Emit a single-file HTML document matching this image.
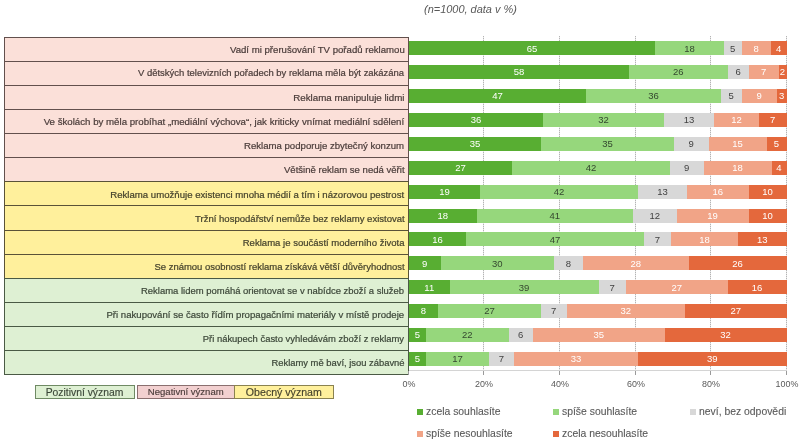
<!DOCTYPE html>
<html><head><meta charset="utf-8"><style>
*{margin:0;padding:0;box-sizing:border-box}
html,body{width:800px;height:445px;background:#fff;overflow:hidden;position:relative;}
body{will-change:transform;font-family:"Liberation Sans",sans-serif}
.a{position:absolute}
.lab{position:absolute;will-change:transform;-webkit-text-stroke:0.2px currentColor;white-space:nowrap;font-size:9px;line-height:12px;transform-origin:100% 50%}
.seg{position:absolute;height:14px}
.v{position:absolute;font-size:9.5px;line-height:12px;text-align:center;white-space:nowrap}
.gl{position:absolute;width:1px;background:repeating-linear-gradient(to bottom,#b4b4b4 0 1px,#e6e6e6 1px 2px)}
.tk{position:absolute;transform:scaleX(0.94);font-size:9.5px;line-height:12px;color:#595959;white-space:nowrap;text-align:center;width:40px}
.lg{position:absolute;-webkit-text-stroke:0.1px currentColor;font-size:10.4px;line-height:12px;color:#595959;white-space:nowrap}
.sq{position:absolute;width:6px;height:6px}
</style></head><body>
<div class="a" style="left:424px;top:4.1px;transform:scaleX(1.096);transform-origin:0 0;font-size:10px;line-height:12px;font-style:italic;color:#595959;white-space:nowrap">(n=1000, data v %)</div>
<div class="gl" style="left:483px;top:36px;height:335px"></div>
<div class="gl" style="left:559px;top:36px;height:335px"></div>
<div class="gl" style="left:635px;top:36px;height:335px"></div>
<div class="gl" style="left:710px;top:36px;height:335px"></div>
<div class="gl" style="left:786px;top:36px;height:335px"></div>
<div class="a" style="left:4px;top:37.00px;width:405px;height:25.07px;background:#fbe0d9;border:1px solid #62504d"></div>
<div class="a" style="left:4px;top:61.07px;width:405px;height:25.07px;background:#fbe0d9;border:1px solid #62504d"></div>
<div class="a" style="left:4px;top:85.14px;width:405px;height:25.07px;background:#fbe0d9;border:1px solid #62504d"></div>
<div class="a" style="left:4px;top:109.21px;width:405px;height:25.07px;background:#fbe0d9;border:1px solid #62504d"></div>
<div class="a" style="left:4px;top:133.28px;width:405px;height:25.07px;background:#fbe0d9;border:1px solid #62504d"></div>
<div class="a" style="left:4px;top:157.35px;width:405px;height:25.07px;background:#fbe0d9;border:1px solid #62504d"></div>
<div class="a" style="left:4px;top:181.42px;width:405px;height:25.07px;background:#fff09c;border:1px solid #5a5238"></div>
<div class="a" style="left:4px;top:205.49px;width:405px;height:25.07px;background:#fff09c;border:1px solid #5a5238"></div>
<div class="a" style="left:4px;top:229.56px;width:405px;height:25.07px;background:#fff09c;border:1px solid #5a5238"></div>
<div class="a" style="left:4px;top:253.63px;width:405px;height:25.07px;background:#fff09c;border:1px solid #5a5238"></div>
<div class="a" style="left:4px;top:277.70px;width:405px;height:25.07px;background:#def0d3;border:1px solid #4a5a45"></div>
<div class="a" style="left:4px;top:301.77px;width:405px;height:25.07px;background:#def0d3;border:1px solid #4a5a45"></div>
<div class="a" style="left:4px;top:325.84px;width:405px;height:25.07px;background:#def0d3;border:1px solid #4a5a45"></div>
<div class="a" style="left:4px;top:349.91px;width:405px;height:25.07px;background:#def0d3;border:1px solid #4a5a45"></div>
<div class="lab" style="transform:scaleX(1.0673);right:395.5px;top:44.10px;color:#4a3c3a">Vadí mi přerušování TV pořadů reklamou</div>
<div class="seg" style="left:409.00px;top:41.20px;width:246.00px;background:#58ae32"></div>
<div class="v" style="left:409.00px;top:42.50px;width:246.00px;color:#ffffff">65</div>
<div class="seg" style="left:655.00px;top:41.20px;width:69.00px;background:#96d77c"></div>
<div class="v" style="left:655.00px;top:42.50px;width:69.00px;color:#34472f">18</div>
<div class="seg" style="left:724.00px;top:41.20px;width:17.50px;background:#d8d8d8"></div>
<div class="v" style="left:724.00px;top:42.50px;width:17.50px;color:#3f3f3f">5</div>
<div class="seg" style="left:741.50px;top:41.20px;width:29.50px;background:#f1a487"></div>
<div class="v" style="left:741.50px;top:42.50px;width:29.50px;color:#ffffff">8</div>
<div class="seg" style="left:771.00px;top:41.20px;width:15.50px;background:#e4683c"></div>
<div class="v" style="left:771.00px;top:42.50px;width:15.50px;color:#ffffff">4</div>
<div class="lab" style="transform:scaleX(1.0513);right:395.5px;top:67.30px;color:#4a3c3a">V dětských televizních pořadech by reklama měla být zakázána</div>
<div class="seg" style="left:409.00px;top:65.10px;width:220.00px;background:#58ae32"></div>
<div class="v" style="left:409.00px;top:66.40px;width:220.00px;color:#ffffff">58</div>
<div class="seg" style="left:629.00px;top:65.10px;width:98.50px;background:#96d77c"></div>
<div class="v" style="left:629.00px;top:66.40px;width:98.50px;color:#34472f">26</div>
<div class="seg" style="left:727.50px;top:65.10px;width:21.50px;background:#d8d8d8"></div>
<div class="v" style="left:727.50px;top:66.40px;width:21.50px;color:#3f3f3f">6</div>
<div class="seg" style="left:749.00px;top:65.10px;width:29.50px;background:#f1a487"></div>
<div class="v" style="left:749.00px;top:66.40px;width:29.50px;color:#ffffff">7</div>
<div class="seg" style="left:778.50px;top:65.10px;width:8.00px;background:#e4683c"></div>
<div class="v" style="left:778.50px;top:66.40px;width:8.00px;color:#ffffff">2</div>
<div class="lab" style="transform:scaleX(1.0858);right:395.5px;top:91.50px;color:#4a3c3a">Reklama manipuluje lidmi</div>
<div class="seg" style="left:409.00px;top:89.00px;width:177.00px;background:#58ae32"></div>
<div class="v" style="left:409.00px;top:90.30px;width:177.00px;color:#ffffff">47</div>
<div class="seg" style="left:586.00px;top:89.00px;width:135.00px;background:#96d77c"></div>
<div class="v" style="left:586.00px;top:90.30px;width:135.00px;color:#34472f">36</div>
<div class="seg" style="left:721.00px;top:89.00px;width:20.50px;background:#d8d8d8"></div>
<div class="v" style="left:721.00px;top:90.30px;width:20.50px;color:#3f3f3f">5</div>
<div class="seg" style="left:741.50px;top:89.00px;width:35.50px;background:#f1a487"></div>
<div class="v" style="left:741.50px;top:90.30px;width:35.50px;color:#ffffff">9</div>
<div class="seg" style="left:777.00px;top:89.00px;width:9.50px;background:#e4683c"></div>
<div class="v" style="left:777.00px;top:90.30px;width:9.50px;color:#ffffff">3</div>
<div class="lab" style="transform:scaleX(1.0757);right:395.5px;top:116.00px;color:#4a3c3a">Ve školách by měla probíhat „mediální výchova“, jak kriticky vnímat mediální sdělení</div>
<div class="seg" style="left:409.00px;top:112.90px;width:134.00px;background:#58ae32"></div>
<div class="v" style="left:409.00px;top:114.20px;width:134.00px;color:#ffffff">36</div>
<div class="seg" style="left:543.00px;top:112.90px;width:121.00px;background:#96d77c"></div>
<div class="v" style="left:543.00px;top:114.20px;width:121.00px;color:#34472f">32</div>
<div class="seg" style="left:664.00px;top:112.90px;width:50.00px;background:#d8d8d8"></div>
<div class="v" style="left:664.00px;top:114.20px;width:50.00px;color:#3f3f3f">13</div>
<div class="seg" style="left:714.00px;top:112.90px;width:45.00px;background:#f1a487"></div>
<div class="v" style="left:714.00px;top:114.20px;width:45.00px;color:#ffffff">12</div>
<div class="seg" style="left:759.00px;top:112.90px;width:27.50px;background:#e4683c"></div>
<div class="v" style="left:759.00px;top:114.20px;width:27.50px;color:#ffffff">7</div>
<div class="lab" style="transform:scaleX(1.0669);right:395.5px;top:139.90px;color:#4a3c3a">Reklama podporuje zbytečný konzum</div>
<div class="seg" style="left:409.00px;top:136.80px;width:132.00px;background:#58ae32"></div>
<div class="v" style="left:409.00px;top:138.10px;width:132.00px;color:#ffffff">35</div>
<div class="seg" style="left:541.00px;top:136.80px;width:133.00px;background:#96d77c"></div>
<div class="v" style="left:541.00px;top:138.10px;width:133.00px;color:#34472f">35</div>
<div class="seg" style="left:674.00px;top:136.80px;width:34.50px;background:#d8d8d8"></div>
<div class="v" style="left:674.00px;top:138.10px;width:34.50px;color:#3f3f3f">9</div>
<div class="seg" style="left:708.50px;top:136.80px;width:58.00px;background:#f1a487"></div>
<div class="v" style="left:708.50px;top:138.10px;width:58.00px;color:#ffffff">15</div>
<div class="seg" style="left:766.50px;top:136.80px;width:20.00px;background:#e4683c"></div>
<div class="v" style="left:766.50px;top:138.10px;width:20.00px;color:#ffffff">5</div>
<div class="lab" style="transform:scaleX(1.0617);right:395.5px;top:164.40px;color:#4a3c3a">Většině reklam se nedá věřit</div>
<div class="seg" style="left:409.00px;top:160.70px;width:103.00px;background:#58ae32"></div>
<div class="v" style="left:409.00px;top:162.00px;width:103.00px;color:#ffffff">27</div>
<div class="seg" style="left:512.00px;top:160.70px;width:158.00px;background:#96d77c"></div>
<div class="v" style="left:512.00px;top:162.00px;width:158.00px;color:#34472f">42</div>
<div class="seg" style="left:670.00px;top:160.70px;width:33.50px;background:#d8d8d8"></div>
<div class="v" style="left:670.00px;top:162.00px;width:33.50px;color:#3f3f3f">9</div>
<div class="seg" style="left:703.50px;top:160.70px;width:68.00px;background:#f1a487"></div>
<div class="v" style="left:703.50px;top:162.00px;width:68.00px;color:#ffffff">18</div>
<div class="seg" style="left:771.50px;top:160.70px;width:15.00px;background:#e4683c"></div>
<div class="v" style="left:771.50px;top:162.00px;width:15.00px;color:#ffffff">4</div>
<div class="lab" style="transform:scaleX(1.0681);right:395.5px;top:188.60px;color:#45422c">Reklama umožňuje existenci mnoha médií a tím i názorovou pestrost</div>
<div class="seg" style="left:409.00px;top:184.60px;width:71.00px;background:#58ae32"></div>
<div class="v" style="left:409.00px;top:185.90px;width:71.00px;color:#ffffff">19</div>
<div class="seg" style="left:480.00px;top:184.60px;width:158.00px;background:#96d77c"></div>
<div class="v" style="left:480.00px;top:185.90px;width:158.00px;color:#34472f">42</div>
<div class="seg" style="left:638.00px;top:184.60px;width:49.00px;background:#d8d8d8"></div>
<div class="v" style="left:638.00px;top:185.90px;width:49.00px;color:#3f3f3f">13</div>
<div class="seg" style="left:687.00px;top:184.60px;width:61.50px;background:#f1a487"></div>
<div class="v" style="left:687.00px;top:185.90px;width:61.50px;color:#ffffff">16</div>
<div class="seg" style="left:748.50px;top:184.60px;width:38.00px;background:#e4683c"></div>
<div class="v" style="left:748.50px;top:185.90px;width:38.00px;color:#ffffff">10</div>
<div class="lab" style="transform:scaleX(1.0608);right:395.5px;top:212.70px;color:#45422c">Tržní hospodářství nemůže bez reklamy existovat</div>
<div class="seg" style="left:409.00px;top:208.50px;width:67.50px;background:#58ae32"></div>
<div class="v" style="left:409.00px;top:209.80px;width:67.50px;color:#ffffff">18</div>
<div class="seg" style="left:476.50px;top:208.50px;width:156.50px;background:#96d77c"></div>
<div class="v" style="left:476.50px;top:209.80px;width:156.50px;color:#34472f">41</div>
<div class="seg" style="left:633.00px;top:208.50px;width:43.50px;background:#d8d8d8"></div>
<div class="v" style="left:633.00px;top:209.80px;width:43.50px;color:#3f3f3f">12</div>
<div class="seg" style="left:676.50px;top:208.50px;width:72.00px;background:#f1a487"></div>
<div class="v" style="left:676.50px;top:209.80px;width:72.00px;color:#ffffff">19</div>
<div class="seg" style="left:748.50px;top:208.50px;width:38.00px;background:#e4683c"></div>
<div class="v" style="left:748.50px;top:209.80px;width:38.00px;color:#ffffff">10</div>
<div class="lab" style="transform:scaleX(1.0608);right:395.5px;top:236.60px;color:#45422c">Reklama je součástí moderního života</div>
<div class="seg" style="left:409.00px;top:232.40px;width:57.00px;background:#58ae32"></div>
<div class="v" style="left:409.00px;top:233.70px;width:57.00px;color:#ffffff">16</div>
<div class="seg" style="left:466.00px;top:232.40px;width:178.00px;background:#96d77c"></div>
<div class="v" style="left:466.00px;top:233.70px;width:178.00px;color:#34472f">47</div>
<div class="seg" style="left:644.00px;top:232.40px;width:27.00px;background:#d8d8d8"></div>
<div class="v" style="left:644.00px;top:233.70px;width:27.00px;color:#3f3f3f">7</div>
<div class="seg" style="left:671.00px;top:232.40px;width:67.00px;background:#f1a487"></div>
<div class="v" style="left:671.00px;top:233.70px;width:67.00px;color:#ffffff">18</div>
<div class="seg" style="left:738.00px;top:232.40px;width:48.50px;background:#e4683c"></div>
<div class="v" style="left:738.00px;top:233.70px;width:48.50px;color:#ffffff">13</div>
<div class="lab" style="transform:scaleX(1.0529);right:395.5px;top:260.70px;color:#45422c">Se známou osobností reklama získává větší důvěryhodnost</div>
<div class="seg" style="left:409.00px;top:256.30px;width:31.50px;background:#58ae32"></div>
<div class="v" style="left:409.00px;top:257.60px;width:31.50px;color:#ffffff">9</div>
<div class="seg" style="left:440.50px;top:256.30px;width:113.50px;background:#96d77c"></div>
<div class="v" style="left:440.50px;top:257.60px;width:113.50px;color:#34472f">30</div>
<div class="seg" style="left:554.00px;top:256.30px;width:29.00px;background:#d8d8d8"></div>
<div class="v" style="left:554.00px;top:257.60px;width:29.00px;color:#3f3f3f">8</div>
<div class="seg" style="left:583.00px;top:256.30px;width:105.50px;background:#f1a487"></div>
<div class="v" style="left:583.00px;top:257.60px;width:105.50px;color:#ffffff">28</div>
<div class="seg" style="left:688.50px;top:256.30px;width:98.00px;background:#e4683c"></div>
<div class="v" style="left:688.50px;top:257.60px;width:98.00px;color:#ffffff">26</div>
<div class="lab" style="transform:scaleX(1.0521);right:395.5px;top:284.90px;color:#3b4638">Reklama lidem pomáhá orientovat se v nabídce zboží a služeb</div>
<div class="seg" style="left:409.00px;top:280.20px;width:40.50px;background:#58ae32"></div>
<div class="v" style="left:409.00px;top:281.50px;width:40.50px;color:#ffffff">11</div>
<div class="seg" style="left:449.50px;top:280.20px;width:149.00px;background:#96d77c"></div>
<div class="v" style="left:449.50px;top:281.50px;width:149.00px;color:#34472f">39</div>
<div class="seg" style="left:598.50px;top:280.20px;width:27.50px;background:#d8d8d8"></div>
<div class="v" style="left:598.50px;top:281.50px;width:27.50px;color:#3f3f3f">7</div>
<div class="seg" style="left:626.00px;top:280.20px;width:101.50px;background:#f1a487"></div>
<div class="v" style="left:626.00px;top:281.50px;width:101.50px;color:#ffffff">27</div>
<div class="seg" style="left:727.50px;top:280.20px;width:59.00px;background:#e4683c"></div>
<div class="v" style="left:727.50px;top:281.50px;width:59.00px;color:#ffffff">16</div>
<div class="lab" style="transform:scaleX(1.0665);right:395.5px;top:308.70px;color:#3b4638">Při nakupování se často řídím propagačními materiály v místě prodeje</div>
<div class="seg" style="left:409.00px;top:304.10px;width:29.00px;background:#58ae32"></div>
<div class="v" style="left:409.00px;top:305.40px;width:29.00px;color:#ffffff">8</div>
<div class="seg" style="left:438.00px;top:304.10px;width:103.00px;background:#96d77c"></div>
<div class="v" style="left:438.00px;top:305.40px;width:103.00px;color:#34472f">27</div>
<div class="seg" style="left:541.00px;top:304.10px;width:25.50px;background:#d8d8d8"></div>
<div class="v" style="left:541.00px;top:305.40px;width:25.50px;color:#3f3f3f">7</div>
<div class="seg" style="left:566.50px;top:304.10px;width:118.50px;background:#f1a487"></div>
<div class="v" style="left:566.50px;top:305.40px;width:118.50px;color:#ffffff">32</div>
<div class="seg" style="left:685.00px;top:304.10px;width:101.50px;background:#e4683c"></div>
<div class="v" style="left:685.00px;top:305.40px;width:101.50px;color:#ffffff">27</div>
<div class="lab" style="transform:scaleX(1.0481);right:395.5px;top:332.60px;color:#3b4638">Při nákupech často vyhledávám zboží z reklamy</div>
<div class="seg" style="left:409.00px;top:328.00px;width:17.00px;background:#58ae32"></div>
<div class="v" style="left:409.00px;top:329.30px;width:17.00px;color:#ffffff">5</div>
<div class="seg" style="left:426.00px;top:328.00px;width:82.50px;background:#96d77c"></div>
<div class="v" style="left:426.00px;top:329.30px;width:82.50px;color:#34472f">22</div>
<div class="seg" style="left:508.50px;top:328.00px;width:24.50px;background:#d8d8d8"></div>
<div class="v" style="left:508.50px;top:329.30px;width:24.50px;color:#3f3f3f">6</div>
<div class="seg" style="left:533.00px;top:328.00px;width:131.50px;background:#f1a487"></div>
<div class="v" style="left:533.00px;top:329.30px;width:131.50px;color:#ffffff">35</div>
<div class="seg" style="left:664.50px;top:328.00px;width:122.00px;background:#e4683c"></div>
<div class="v" style="left:664.50px;top:329.30px;width:122.00px;color:#ffffff">32</div>
<div class="lab" style="transform:scaleX(1.0435);right:395.5px;top:356.90px;color:#3b4638">Reklamy mě baví, jsou zábavné</div>
<div class="seg" style="left:409.00px;top:351.90px;width:17.00px;background:#58ae32"></div>
<div class="v" style="left:409.00px;top:353.20px;width:17.00px;color:#ffffff">5</div>
<div class="seg" style="left:426.00px;top:351.90px;width:63.00px;background:#96d77c"></div>
<div class="v" style="left:426.00px;top:353.20px;width:63.00px;color:#34472f">17</div>
<div class="seg" style="left:489.00px;top:351.90px;width:25.00px;background:#d8d8d8"></div>
<div class="v" style="left:489.00px;top:353.20px;width:25.00px;color:#3f3f3f">7</div>
<div class="seg" style="left:514.00px;top:351.90px;width:124.00px;background:#f1a487"></div>
<div class="v" style="left:514.00px;top:353.20px;width:124.00px;color:#ffffff">33</div>
<div class="seg" style="left:638.00px;top:351.90px;width:148.50px;background:#e4683c"></div>
<div class="v" style="left:638.00px;top:353.20px;width:148.50px;color:#ffffff">39</div>
<div class="a" style="left:409px;top:369.6px;width:378px;height:1.8px;background:#d4d4d4"></div>
<div class="a" style="left:408px;top:371px;width:1px;height:4px;background:#9a9a9a"></div>
<div class="tk" style="left:388.50px;top:378px">0%</div>
<div class="a" style="left:483px;top:371px;width:1px;height:4px;background:#9a9a9a"></div>
<div class="tk" style="left:463.50px;top:378px">20%</div>
<div class="a" style="left:559px;top:371px;width:1px;height:4px;background:#9a9a9a"></div>
<div class="tk" style="left:539.50px;top:378px">40%</div>
<div class="a" style="left:635px;top:371px;width:1px;height:4px;background:#9a9a9a"></div>
<div class="tk" style="left:615.50px;top:378px">60%</div>
<div class="a" style="left:710px;top:371px;width:1px;height:4px;background:#9a9a9a"></div>
<div class="tk" style="left:690.50px;top:378px">80%</div>
<div class="a" style="left:786px;top:371px;width:1px;height:4px;background:#9a9a9a"></div>
<div class="tk" style="left:766.50px;top:378px">100%</div>
<div class="a" style="left:35px;top:385px;width:100px;height:14px;background:#def0d3;border:1px solid #6f8a64"></div>
<div class="a" style="left:137px;top:385px;width:98px;height:14px;background:#f2d0d0;border:1px solid #8a6f6f"></div>
<div class="a" style="left:234px;top:385px;width:100px;height:14px;background:#fff09c;border:1px solid #8a8250"></div>
<div class="a" style="left:35px;top:386.5px;width:100px;text-align:center;font-size:10px;line-height:12px;color:#3b4638;-webkit-text-stroke:0.15px currentColor"><span style="display:inline-block;transform:scaleX(1.035)">Pozitivní význam</span></div>
<div class="a" style="left:137px;top:386.3px;width:98px;text-align:center;font-size:9px;line-height:12px;color:#4a3c3a;-webkit-text-stroke:0.15px currentColor"><span style="display:inline-block;transform:scaleX(1.06)">Negativní význam</span></div>
<div class="a" style="left:234px;top:386.5px;width:100px;text-align:center;font-size:10px;line-height:12px;color:#45422c;-webkit-text-stroke:0.15px currentColor"><span style="display:inline-block;transform:scaleX(1.06)">Obecný význam</span></div>
<div class="sq" style="left:417px;top:409px;background:#58ae32"></div>
<div class="lg" style="left:426px;top:406px">zcela souhlasíte</div>
<div class="sq" style="left:553px;top:409px;background:#96d77c"></div>
<div class="lg" style="left:562px;top:406px">spíše souhlasíte</div>
<div class="sq" style="left:690px;top:409px;background:#d8d8d8"></div>
<div class="lg" style="left:699px;top:406px">neví, bez odpovědi</div>
<div class="sq" style="left:417px;top:431px;background:#f1a487"></div>
<div class="lg" style="left:426px;top:428px">spíše nesouhlasíte</div>
<div class="sq" style="left:553px;top:431px;background:#e4683c"></div>
<div class="lg" style="left:562px;top:428px">zcela nesouhlasíte</div>
</body></html>
